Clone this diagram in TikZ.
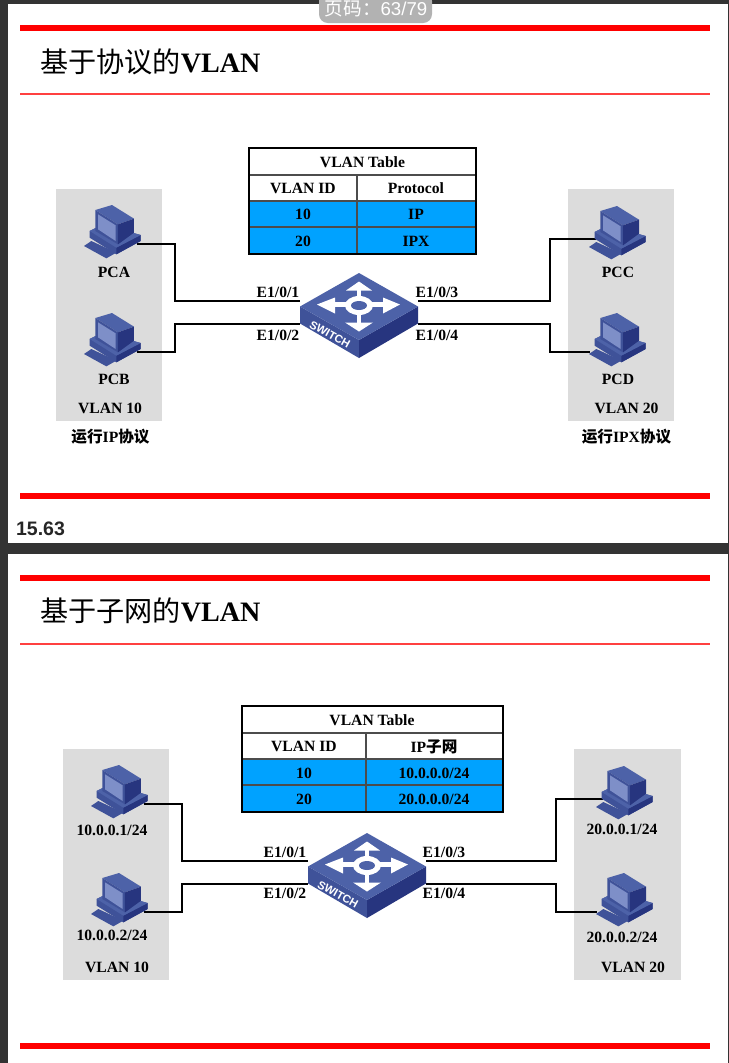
\documentclass[tikz,border=0pt]{standalone}
\usepackage{fontspec}
\setmainfont{Liberation Serif}
\setsansfont{Liberation Sans}
\newfontfamily\cjk{Noto Sans CJK SC}
\newcommand{\zh}[1]{{\cjk #1}}
\definecolor{redbar}{HTML}{FF0000}
\definecolor{redline}{HTML}{FF4040}
\definecolor{panelbg}{HTML}{333333}
\definecolor{grayzone}{HTML}{DCDCDC}
\definecolor{rowblue}{HTML}{00A2FF}
\definecolor{topblue}{HTML}{4D62A8}
\definecolor{leftblue}{HTML}{3F5299}
\definecolor{darkblue}{HTML}{27357F}
\definecolor{screenblue}{HTML}{7E8FC8}
\tikzset{
  redbarstyle/.style={fill=redbar,draw=none},
  zone/.style={fill=grayzone,draw=none},
  link/.style={line width=1.1pt,black,line join=miter},
  outer/.style={line width=1.1pt,black},
  inner/.style={line width=0.6pt,black!70},
  lab/.style={font=\fontsize{8.9}{10}\selectfont\bfseries,inner sep=0pt,text=black},
  title/.style={font=\fontsize{16}{18}\selectfont,anchor=base west,inner sep=0pt},
  pics/pcicon/.style={code={
    \begin{scope}[scale=0.3333,shift={(-232,-47)}]
      \fill[leftblue] (148,170) -- (170,155) -- (245,190) -- (215,207) -- cycle;
      \fill[leftblue] (165,125) -- (205,105) -- (318,137) -- (318,155) -- (245,195) -- (165,145) -- cycle;
      \fill[darkblue] (245,175) -- (318,137) -- (318,155) -- (245,195) -- cycle;
      \fill[topblue] (165,125) -- (205,105) -- (318,137) -- (245,175) -- cycle;
      \fill[topblue] (182,62) -- (232,47) -- (298,88) -- (250,105) -- cycle;
      \fill[leftblue] (182,62) -- (250,105) -- (250,165) -- (182,125) -- cycle;
      \fill[screenblue] (190,75) -- (243,108) -- (243,155) -- (190,120) -- cycle;
      \fill[darkblue] (250,105) -- (298,88) -- (298,130) -- (250,165) -- cycle;
    \end{scope}
  }},
  pics/switchicon/.style={code={
    \fill[leftblue] (-59,0) -- (0,33.5) -- (0,51.5) -- (-59,17) -- cycle;
    \fill[darkblue] (59,0) -- (0,33.5) -- (0,51.5) -- (59,17) -- cycle;
    \fill[topblue] (-59,0) -- (0,-33.5) -- (59,0) -- (0,33.5) -- cycle;
    \draw[white,line width=2.8pt] (0,-18) -- (0,18);
    \draw[white,line width=2.4pt] (-28,-2) -- (28,-2);
    \fill[white] (0,-25) -- (13,-16) -- (-13,-16) -- cycle;
    \fill[white] (0,25) -- (14,16) -- (-14,16) -- cycle;
    \fill[white] (-42,-2) -- (-24,-9) -- (-24,7) -- cycle;
    \fill[white] (41,-2) -- (24,-9) -- (24,7) -- cycle;
    \fill[white] (0,-1) ellipse [x radius=0.28cm,y radius=0.19cm];
    \fill[topblue] (0,-1) ellipse [x radius=0.16cm,y radius=0.09cm];
    \node[font=\sffamily\bfseries\fontsize{6.4}{7}\selectfont,text=white,rotate=-29,inner sep=0pt] at (-29,28) {SWITCH};
  }}
}
\begin{document}
\begin{tikzpicture}[x=0.02cm,y=-0.02cm]
  \useasboundingbox (0,0) rectangle (729,1063);
  \fill[panelbg] (0,0) rectangle (729,1063);
  \fill[white] (8,4) rectangle (728,543);
  \fill[white] (8,554) rectangle (728,1063);

  % first slide
  \fill[redbarstyle] (20,25) rectangle (710,31);
  \fill[redline] (20,93.2) rectangle (710,95);
  \fill[redbarstyle] (20,493) rectangle (710,499);
  \node[title] (titleA) at (40,72) {\zh{基于协议的}\textbf{VLAN}};
  \node[font=\sffamily\bfseries\fontsize{11.1}{12}\selectfont,text=black!85,inner sep=0pt] (pagenoA) at (40.5,529) {15.63};
  \fill[zone] (56,189) rectangle (162,421);
  \fill[zone] (568,189) rectangle (674,421);

  \fill[rowblue] (249,201) rectangle (476,254);
  \draw[inner] (249,175) -- (476,175);
  \draw[inner] (249,201) -- (476,201);
  \draw[inner] (249,227) -- (476,227);
  \draw[inner] (357,175) -- (357,254);
  \draw[outer] (249,148) rectangle (476,254);
  \node[lab] (tabA) at (362.5,162) {VLAN Table};
  \node[lab] (idA) at (303,188.5) {VLAN ID};
  \node[lab] (protoA) at (416,188.5) {Protocol};
  \node[lab] (idA1) at (303,214.5) {10};
  \node[lab] (protoA1) at (416,214.5) {IP};
  \node[lab] (idA2) at (303,241) {20};
  \node[lab] (protoA2) at (416,241) {IPX};

  \coordinate (swA1) at (300,301);
  \coordinate (swA2) at (300,324);
  \coordinate (swA3) at (418,301);
  \coordinate (swA4) at (418,324);
  \coordinate (pca) at (137,244);
  \coordinate (pcb) at (137,352);
  \coordinate (pcc) at (596,239);
  \coordinate (pcd) at (590,352);
  \draw[link] (pca) -- (175,244) |- (swA1);
  \draw[link] (pcb) -- (175,352) |- (swA2);
  \draw[link] (pcc) -- (550,239) |- (swA3);
  \draw[link] (pcd) -- (550,352) |- (swA4);
  \pic at (112,205) {pcicon};
  \pic at (112,313) {pcicon};
  \pic at (617,206) {pcicon};
  \pic at (617,313) {pcicon};
  \pic at (359,306.5) {switchicon};

  \node[lab] (labA) at (114,272) {PCA};
  \node[lab] (labB) at (114,379) {PCB};
  \node[lab] (labC) at (618,272) {PCC};
  \node[lab] (labD) at (618,379) {PCD};
  \node[lab] (vlanA) at (110,408.5) {VLAN 10};
  \node[lab] (vlanB) at (626.5,408.5) {VLAN 20};
  \node[lab] (runA) at (110.5,437) {\zh{运行}IP\zh{协议}};
  \node[lab] (runB) at (626.5,437) {\zh{运行}IPX\zh{协议}};
  \node[lab] (portA1) at (278,292) {E1/0/1};
  \node[lab] (portA2) at (278,335) {E1/0/2};
  \node[lab] (portA3) at (437,292) {E1/0/3};
  \node[lab] (portA4) at (437,335) {E1/0/4};

  % second slide
  \fill[redbarstyle] (20,575) rectangle (710,581);
  \fill[redline] (20,643.2) rectangle (710,645);
  \fill[redbarstyle] (20,1043) rectangle (710,1049);
  \node[title] (titleB) at (40,621) {\zh{基于子网的}\textbf{VLAN}};
  \fill[zone] (63,749) rectangle (169,980);
  \fill[zone] (574,749) rectangle (681,980);

  \fill[rowblue] (242,759) rectangle (503,812);
  \draw[inner] (242,733) -- (503,733);
  \draw[inner] (242,759) -- (503,759);
  \draw[inner] (242,785) -- (503,785);
  \draw[inner] (366,733) -- (366,812);
  \draw[outer] (242,706) rectangle (503,812);
  \node[lab] (tabB) at (372,720) {VLAN Table};
  \node[lab] (idB) at (304,746.5) {VLAN ID};
  \node[lab] (netB) at (434,746.5) {IP\zh{子网}};
  \node[lab] (idB1) at (304,773) {10};
  \node[lab] (netB1) at (434,773) {10.0.0.0/24};
  \node[lab] (idB2) at (304,799.5) {20};
  \node[lab] (netB2) at (434,799.5) {20.0.0.0/24};

  \coordinate (swB1) at (308,861);
  \coordinate (swB2) at (308,884);
  \coordinate (swB3) at (426,861);
  \coordinate (swB4) at (426,884);
  \coordinate (hosta) at (144,804);
  \coordinate (hostb) at (144,912);
  \coordinate (hostc) at (603,799);
  \coordinate (hostd) at (597,912);
  \draw[link] (hosta) -- (182,804) |- (swB1);
  \draw[link] (hostb) -- (182,912) |- (swB2);
  \draw[link] (hostc) -- (556,799) |- (swB3);
  \draw[link] (hostd) -- (556,912) |- (swB4);
  \pic at (119,765) {pcicon};
  \pic at (119,873) {pcicon};
  \pic at (624,766) {pcicon};
  \pic at (624,873) {pcicon};
  \pic at (367,866.5) {switchicon};

  \node[lab] (labE) at (112,830) {10.0.0.1/24};
  \node[lab] (labF) at (112,935) {10.0.0.2/24};
  \node[lab] (labG) at (622,829.5) {20.0.0.1/24};
  \node[lab] (labH) at (622,937.5) {20.0.0.2/24};
  \node[lab] (vlanC) at (117,967.5) {VLAN 10};
  \node[lab] (vlanD) at (633,967.5) {VLAN 20};
  \node[lab] (portB1) at (285,852) {E1/0/1};
  \node[lab] (portB2) at (285,893) {E1/0/2};
  \node[lab] (portB3) at (444,852) {E1/0/3};
  \node[lab] (portB4) at (444,893) {E1/0/4};

  % page counter on top
  \fill[black!30,rounded corners=5pt] (319,-8) rectangle (432,23);
  \node[font=\sffamily\fontsize{10.6}{12}\selectfont,text=white,inner sep=0pt] (counter) at (376,9) {\zh{页码：}63/79};
\end{tikzpicture}
\end{document}
